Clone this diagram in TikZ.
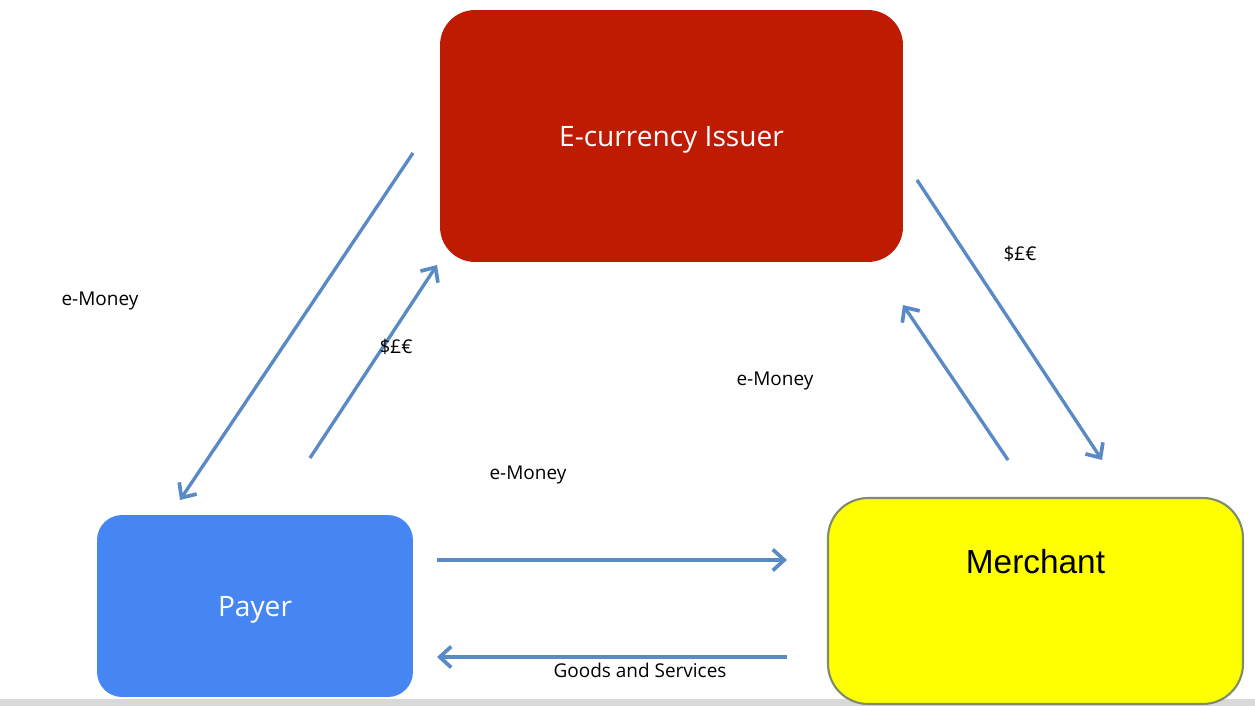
\documentclass[tikz,border=0pt]{standalone}
\usepackage{fontspec}
\setmainfont{Open Sans}
\newfontfamily\merchantfont{Liberation Sans}
\usetikzlibrary{arrows.meta,positioning}
\definecolor{issuerred}{HTML}{BE1B02}
\definecolor{payerblue}{HTML}{4586F3}
\definecolor{merchantyellow}{HTML}{FFFF00}
\definecolor{merchantedge}{HTML}{7E8C6C}
\definecolor{flowblue}{HTML}{5A8AC6}
\tikzstyle{party} = [rectangle, text centered, inner sep=0pt]
\tikzstyle{connector} = [line width=1.9pt, flowblue, -{Straight Barb[length=2.3mm,width=4.2mm,line width=2.1pt]}]
\tikzstyle{flowlabel} = [font=\fontsize{10.8}{13}\selectfont, inner sep=0pt]

\begin{document}
\begin{tikzpicture}[x=0.02cm, y=-0.02cm]
        \useasboundingbox (0,0) rectangle (1255,706);
        \fill [black!15] (0,699) rectangle (1255,706);
        % parties
        \node (issuer) [party, fill=issuerred, rounded corners=0.7cm, minimum width=9.26cm, minimum height=5.04cm, text=white, text depth=0pt, font=\fontsize{16}{19}\selectfont] at (671.5,136) {E-currency Issuer};
        \node (payer) [party, fill=payerblue, rounded corners=0.5cm, minimum width=6.32cm, minimum height=3.64cm, text=white, text depth=0pt, font=\fontsize{16}{19}\selectfont] at (255,606) {Payer};
        \node (merchant) [party, fill=merchantyellow, draw=merchantedge, line width=1.2pt, rounded corners=0.8cm, minimum width=8.3cm, minimum height=4.12cm] at (1035.5,601) {};
        \node (merchant-text) [below=1.04cm of merchant.north, inner sep=0pt, font=\merchantfont\fontsize{19}{22}\selectfont] {Merchant};
        % arrow ends
        \coordinate (emoney-out) at (413,153);
        \coordinate (emoney-payer) at (180,500);
        \coordinate (cash-payer) at (310,458);
        \coordinate (cash-issuer) at (437,265);
        \coordinate (cash-out) at (917,180);
        \coordinate (cash-merchant) at (1102,460);
        \coordinate (emoney-merchant) at (1008,460);
        \coordinate (emoney-back) at (903,305);
        \coordinate (pay-from) at (437,560);
        \coordinate (pay-to) at (787,560);
        \coordinate (goods-from) at (787,657);
        \coordinate (goods-to) at (437,657);
        \draw [connector] (emoney-out) -- (emoney-payer);
        \draw [connector] (cash-payer) -- (cash-issuer);
        \draw [connector] (cash-out) -- (cash-merchant);
        \draw [connector] (emoney-merchant) -- (emoney-back);
        \draw [connector] (pay-from) -- (pay-to);
        \draw [connector] (goods-from) -- (goods-to);
        % labels
        \node (lbl-emoney-1) [flowlabel] at (100,301) {e-Money};
        \node (lbl-cash-1) [flowlabel] at (396,347) {\$£€};
        \node (lbl-cash-2) [flowlabel] at (1020,254) {\$£€};
        \node (lbl-emoney-2) [flowlabel] at (775,381) {e-Money};
        \node (lbl-emoney-3) [flowlabel] at (528,475) {e-Money};
        \node (lbl-goods) [flowlabel] at (640,670) {Goods and Services};
    \end{tikzpicture}
\end{document}
